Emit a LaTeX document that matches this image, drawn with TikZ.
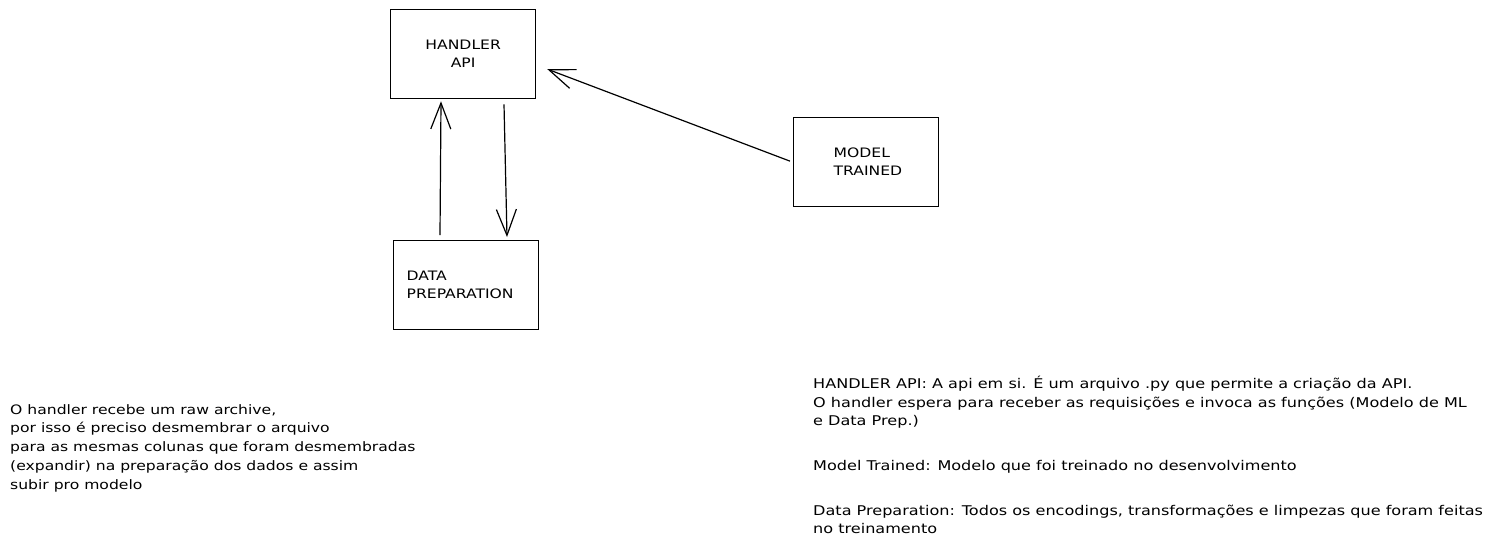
\documentclass[tikz,border=0pt]{standalone}
\usepackage{fontspec}
\newfontfamily\hand[FakeStretch=1.2]{DejaVu Sans}
\usetikzlibrary{arrows.meta}
\begin{document}
\begin{tikzpicture}[x=1pt,y=-1pt,
  box/.style={draw, line width=1.3pt, minimum width=145pt, minimum height=89pt,
    inner ysep=0pt, anchor=north west, font=\hand\fontsize{13}{18}\selectfont},
  note/.style={anchor=north west, align=left, inner sep=0pt},
  arr/.style={line width=1.2pt, -{Straight Barb[length=26pt,width=20pt,line width=1.2pt]}}]
\path[use as bounding box, fill=white] (0,0) rectangle (1494,544);

\node[box, align=center, inner xsep=0pt] (api) at (390,9) {HANDLER\\API};
\node[box, align=left, inner xsep=13pt, text width=119pt] (dp) at (393,240) {DATA\\PREPARATION};
\node[box, align=left, inner xsep=40pt, text width=65pt] (mt) at (793,117) {MODEL\\TRAINED};

\draw[arr] ([xshift=47pt,yshift=5pt]dp.north west) -- ([xshift=51pt,yshift=-2pt]api.south west);
\draw[arr] ([xshift=114pt,yshift=-5pt]api.south west) -- ([xshift=114pt,yshift=3pt]dp.north west);
\draw[arr] ([xshift=-3pt,yshift=1pt]mt.west) -- ([xshift=11pt,yshift=-15pt]api.east);

\node[note, font=\hand\fontsize{13}{18.9}\selectfont] (left) at (10,404) {O handler recebe um raw archive,\\
por isso é preciso desmembrar o arquivo\\
para as mesmas colunas que foram desmembradas\\
(expandir) na preparação dos dados e assim\\
subir pro modelo};

\node[note, font=\hand\fontsize{13.4}{18.5}\selectfont] (right) at (813,376) {HANDLER API: A api em si. É um arquivo .py que permite a criação da API.\\
O handler espera para receber as requisições e invoca as funções (Modelo de ML\\
e Data Prep.)\\[26.5pt]
Model Trained: Modelo que foi treinado no desenvolvimento\\[26pt]
Data Preparation: Todos os encodings, transformações e limpezas que foram feitas\\
no treinamento};
\end{tikzpicture}
\end{document}
